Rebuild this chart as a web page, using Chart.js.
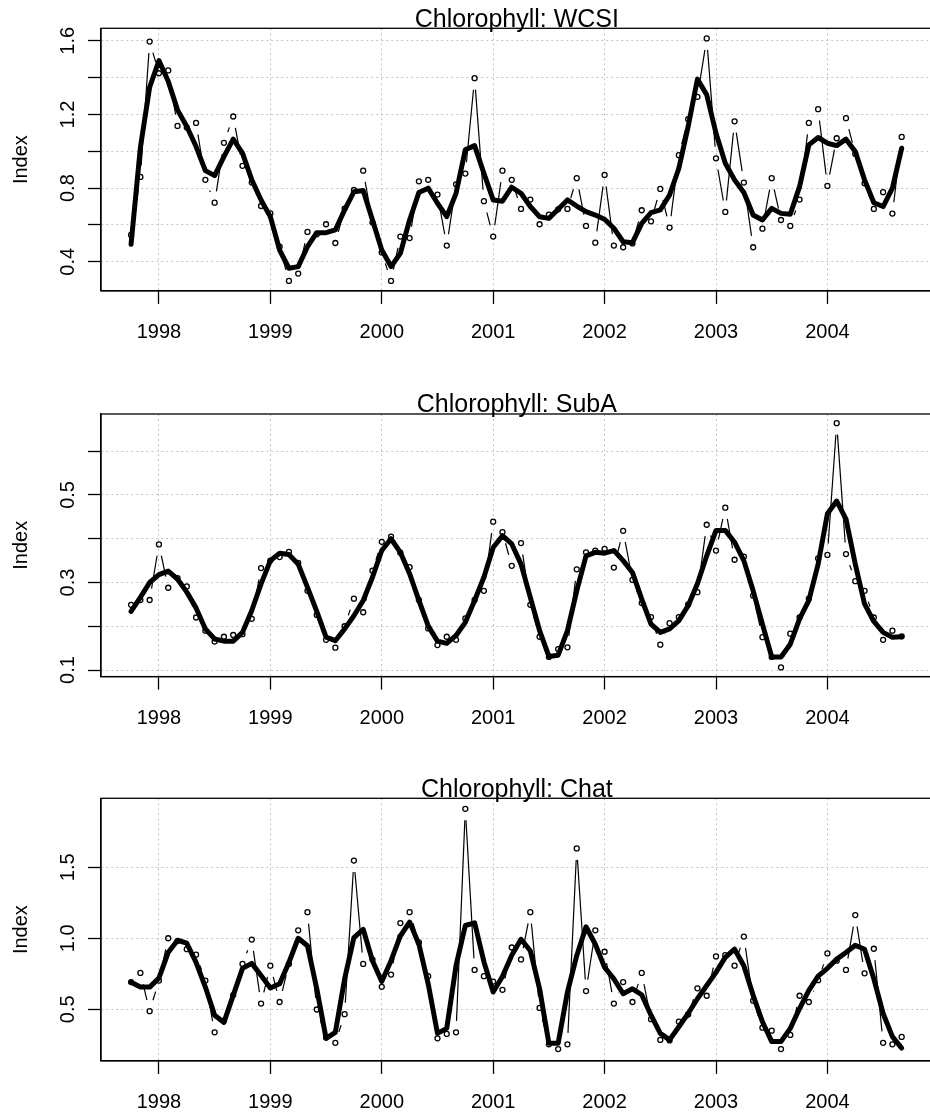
<!DOCTYPE html>
<html>
<head>
<meta charset="utf-8">
<script src="https://cdn.jsdelivr.net/npm/chart.js@4.4.1/dist/chart.umd.min.js"></script>
<style>
  html, body { margin: 0; padding: 0; background: #fff; overflow: hidden; width: 930px; height: 1117px; }
  .panel { position: absolute; left: 0; }
</style>
</head>
<body>
<div class="panel" style="top:0px"><canvas id="wcsi" width="938" height="385"></canvas></div>
<div class="panel" style="top:385px"><canvas id="suba" width="938" height="385"></canvas></div>
<div class="panel" style="top:770px"><canvas id="chat" width="938" height="347"></canvas></div>
<script>
// monthly series, Oct 1997 .. Sep 2004
const startYear = 1997 + 9 / 12;
const years = [1998, 1999, 2000, 2001, 2002, 2003, 2004];

const wcsiRaw = [0.546, 0.861, 1.596, 1.424, 1.439, 1.138, 1.129, 1.154, 0.845, 0.721, 1.046, 1.189,
  0.921, 0.83, 0.703, 0.663, 0.482, 0.296, 0.336, 0.562, 0.55, 0.604, 0.502, 0.689,
  0.79, 0.895, 0.613, 0.451, 0.296, 0.537, 0.529, 0.837, 0.845, 0.765, 0.488, 0.821,
  0.879, 1.397, 0.729, 0.537, 0.895, 0.845, 0.687, 0.738, 0.604, 0.656, 0.685, 0.687,
  0.854, 0.595, 0.504, 0.872, 0.488, 0.479, 0.50, 0.68, 0.62, 0.796, 0.586, 0.979,
  1.174, 1.296, 1.613, 0.962, 0.671, 1.163, 0.83, 0.479, 0.58, 0.854, 0.627, 0.595,
  0.738, 1.154, 1.229, 0.812, 1.071, 1.18, 0.986, 0.826, 0.687, 0.778, 0.662, 1.078];
const wcsiSmooth = [0.495, 1.02, 1.348, 1.493, 1.38, 1.225, 1.135, 1.026, 0.895, 0.868, 0.971, 1.066,
  0.99, 0.845, 0.736, 0.645, 0.464, 0.365, 0.374, 0.482, 0.558, 0.558, 0.573, 0.682,
  0.78, 0.787, 0.627, 0.464, 0.374, 0.446, 0.627, 0.776, 0.80, 0.718, 0.645, 0.772,
  1.008, 1.031, 0.881, 0.736, 0.729, 0.805, 0.772, 0.70, 0.645, 0.636, 0.685, 0.736,
  0.703, 0.672, 0.654, 0.631, 0.582, 0.509, 0.504, 0.609, 0.667, 0.682, 0.763, 0.908,
  1.134, 1.392, 1.307, 1.098, 0.935, 0.845, 0.776, 0.654, 0.627, 0.69, 0.663, 0.658,
  0.808, 1.035, 1.075, 1.044, 1.031, 1.066, 0.999, 0.845, 0.721, 0.70, 0.80, 1.017];

const subaRaw = [0.249, 0.26, 0.26, 0.387, 0.288, 0.31, 0.291, 0.22, 0.19, 0.165, 0.176, 0.18,
  0.182, 0.217, 0.333, 0.35, 0.358, 0.37, 0.345, 0.281, 0.226, 0.169, 0.151, 0.20,
  0.263, 0.232, 0.327, 0.393, 0.405, 0.368, 0.335, 0.26, 0.195, 0.157, 0.176, 0.169,
  0.218, 0.26, 0.281, 0.439, 0.415, 0.338, 0.39, 0.249, 0.176, 0.13, 0.148, 0.152,
  0.33, 0.369, 0.373, 0.377, 0.334, 0.418, 0.306, 0.253, 0.221, 0.158, 0.207, 0.221,
  0.25, 0.278, 0.432, 0.373, 0.471, 0.352, 0.359, 0.27, 0.175, 0.13, 0.106, 0.183,
  0.22, 0.263, 0.355, 0.363, 0.664, 0.365, 0.303, 0.281, 0.22, 0.169, 0.19, 0.177];
const subaSmooth = [0.234, 0.266, 0.30, 0.318, 0.326, 0.308, 0.278, 0.242, 0.194, 0.171, 0.166, 0.166,
  0.186, 0.236, 0.297, 0.35, 0.367, 0.364, 0.342, 0.289, 0.234, 0.175, 0.167, 0.194,
  0.224, 0.259, 0.312, 0.373, 0.40, 0.369, 0.32, 0.259, 0.201, 0.166, 0.161, 0.179,
  0.209, 0.259, 0.312, 0.38, 0.407, 0.388, 0.342, 0.266, 0.19, 0.131, 0.134, 0.19,
  0.281, 0.361, 0.369, 0.367, 0.373, 0.35, 0.323, 0.262, 0.205, 0.186, 0.194, 0.213,
  0.247, 0.297, 0.361, 0.419, 0.419, 0.392, 0.35, 0.281, 0.205, 0.13, 0.13, 0.159,
  0.217, 0.259, 0.342, 0.457, 0.486, 0.445, 0.342, 0.251, 0.211, 0.186, 0.175, 0.176];

const chatRaw = [0.691, 0.756, 0.486, 0.702, 1.0, 0.98, 0.923, 0.884, 0.702, 0.337, 0.42, 0.6,
  0.819, 0.991, 0.54, 0.807, 0.551, 0.819, 1.056, 1.184, 0.498, 0.30, 0.263, 0.465,
  1.547, 0.819, 0.85, 0.658, 0.744, 1.107, 1.184, 0.97, 0.733, 0.295, 0.326, 0.337,
  1.912, 0.777, 0.733, 0.695, 0.637, 0.935, 0.851, 1.184, 0.509, 0.253, 0.219, 0.253,
  1.633, 0.628, 1.056, 0.905, 0.54, 0.691, 0.551, 0.756, 0.43, 0.284, 0.28, 0.412,
  0.463, 0.647, 0.595, 0.872, 0.881, 0.807, 1.012, 0.56, 0.37, 0.349, 0.219, 0.319,
  0.595, 0.551, 0.705, 0.893, 0.842, 0.777, 1.163, 0.753, 0.926, 0.263, 0.253, 0.305];
const chatSmooth = [0.69, 0.656, 0.656, 0.719, 0.9, 0.986, 0.965, 0.83, 0.656, 0.458, 0.407, 0.598,
  0.788, 0.823, 0.737, 0.649, 0.679, 0.83, 1.0, 0.947, 0.644, 0.295, 0.337, 0.714,
  1.005, 1.063, 0.842, 0.695, 0.842, 1.016, 1.114, 0.958, 0.679, 0.33, 0.365, 0.807,
  1.09, 1.109, 0.835, 0.621, 0.73, 0.88, 0.993, 0.912, 0.644, 0.26, 0.26, 0.621,
  0.877, 1.081, 0.958, 0.795, 0.714, 0.609, 0.644, 0.602, 0.458, 0.33, 0.284, 0.377,
  0.47, 0.574, 0.667, 0.76, 0.865, 0.923, 0.807, 0.598, 0.412, 0.272, 0.272, 0.365,
  0.505, 0.633, 0.733, 0.788, 0.853, 0.9, 0.951, 0.923, 0.714, 0.47, 0.307, 0.226];

const wcsiTicks = [0.4, 0.6, 0.8, 1.0, 1.2, 1.4, 1.6];
const wcsiLabels = ['0.4', '', '0.8', '', '1.2', '', '1.6'];
const subaTicks = [0.1, 0.2, 0.3, 0.4, 0.5, 0.6];
const subaLabels = ['0.1', '', '0.3', '', '0.5', ''];
const chatTicks = [0.5, 1.0, 1.5];
const chatLabels = ['0.5', '1.0', '1.5'];

Chart.defaults.font.family = "'Liberation Sans', Arial, sans-serif";
Chart.defaults.color = '#000';

const FONT = "'Liberation Sans', Arial, sans-serif";
const GAP = 11.5;

// type="b" look: thin line stops short of each point
function gapDash(ctx) {
  const dx = ctx.p1.x - ctx.p0.x, dy = ctx.p1.y - ctx.p0.y;
  const len = Math.hypot(dx, dy);
  if (len <= 2 * GAP) return [0, len + 10];
  return [0, GAP, len - 2 * GAP, GAP + 50];
}

const boxPlugin = {
  id: 'box',
  afterDraw(chart) {
    const a = chart.chartArea, c = chart.ctx;
    c.save();
    c.strokeStyle = '#000';
    c.lineWidth = 1.3;
    c.strokeRect(a.left, a.top, a.right - a.left, a.bottom - a.top);
    c.restore();
  }
};

function toPoints(arr) {
  return arr.map((v, i) => ({ x: startYear + i / 12, y: v }));
}

function makePanel(id, title, raw, smooth, yMin, yMax, yTicks, yLabels, topRel) {
  const canvas = document.getElementById(id);
  const areaH = 262.6;
  const xHeight = canvas.height - topRel - areaH;
  const gridOpts = { color: '#c4c4c4', lineWidth: 1, tickColor: '#000', tickLength: 13, tickWidth: 1.3 };
  const borderOpts = { display: true, color: '#000', width: 1.3, dash: [2, 3] };
  new Chart(canvas, {
    type: 'line',
    data: {
      datasets: [{
        label: 'smooth',
        data: toPoints(smooth),
        borderColor: '#000',
        borderWidth: 5,
        borderCapStyle: 'round',
        borderJoinStyle: 'round',
        pointRadius: 0,
        tension: 0,
        order: 0
      }, {
        label: 'raw',
        data: toPoints(raw),
        borderColor: '#000',
        borderWidth: 1.2,
        pointRadius: 2.5,
        pointBorderWidth: 1.3,
        pointBorderColor: '#000',
        pointBackgroundColor: 'rgba(0,0,0,0)',
        tension: 0,
        order: 1,
        segment: {
          borderDash: gapDash,
          borderDashOffset: ctx => ctx.p0DataIndex * 0.001
        }
      }]
    },
    options: {
      responsive: false,
      animation: false,
      events: [],
      layout: { padding: 0 },
      plugins: {
        legend: { display: false },
        tooltip: { enabled: false },
        title: {
          display: true,
          fullSize: false,
          text: title,
          color: '#000',
          font: { family: FONT, size: 25, weight: 'normal', lineHeight: 1.2 },
          padding: { top: 5.2, bottom: topRel - 30 - 5.2 }
        }
      },
      scales: {
        x: {
          type: 'linear',
          min: 1997.48,
          max: 2004.945,
          afterBuildTicks: s => { s.ticks = years.map(v => ({ value: v })); },
          afterFit: s => { s.height = xHeight; },
          ticks: {
            autoSkip: false,
            maxRotation: 0,
            padding: 17,
            font: { family: FONT, size: 20 },
            callback: v => String(v)
          },
          grid: gridOpts,
          border: borderOpts
        },
        y: {
          type: 'linear',
          min: yMin,
          max: yMax,
          afterBuildTicks: s => { s.ticks = yTicks.map(v => ({ value: v })); },
          afterFit: s => { s.width = 101; },
          ticks: {
            autoSkip: false,
            minRotation: 90,
            maxRotation: 90,
            crossAlign: 'center',
            padding: 6,
            font: { family: FONT, size: 20 },
            callback: (v, i) => yLabels[i]
          },
          title: {
            display: true,
            text: 'Index',
            font: { family: FONT, size: 20 },
            padding: { top: 9.4, bottom: 0 }
          },
          grid: gridOpts,
          border: borderOpts
        }
      }
    },
    plugins: [boxPlugin]
  });
}

makePanel('wcsi', 'Chlorophyll: WCSI', wcsiRaw, wcsiSmooth, 0.242, 1.668, wcsiTicks, wcsiLabels, 28.3);
makePanel('suba', 'Chlorophyll: SubA', subaRaw, subaSmooth, 0.085, 0.685, subaTicks, subaLabels, 29);
makePanel('chat', 'Chlorophyll: Chat', chatRaw, chatSmooth, 0.136, 1.986, chatTicks, chatLabels, 28.3);
</script>
</body>
</html>
